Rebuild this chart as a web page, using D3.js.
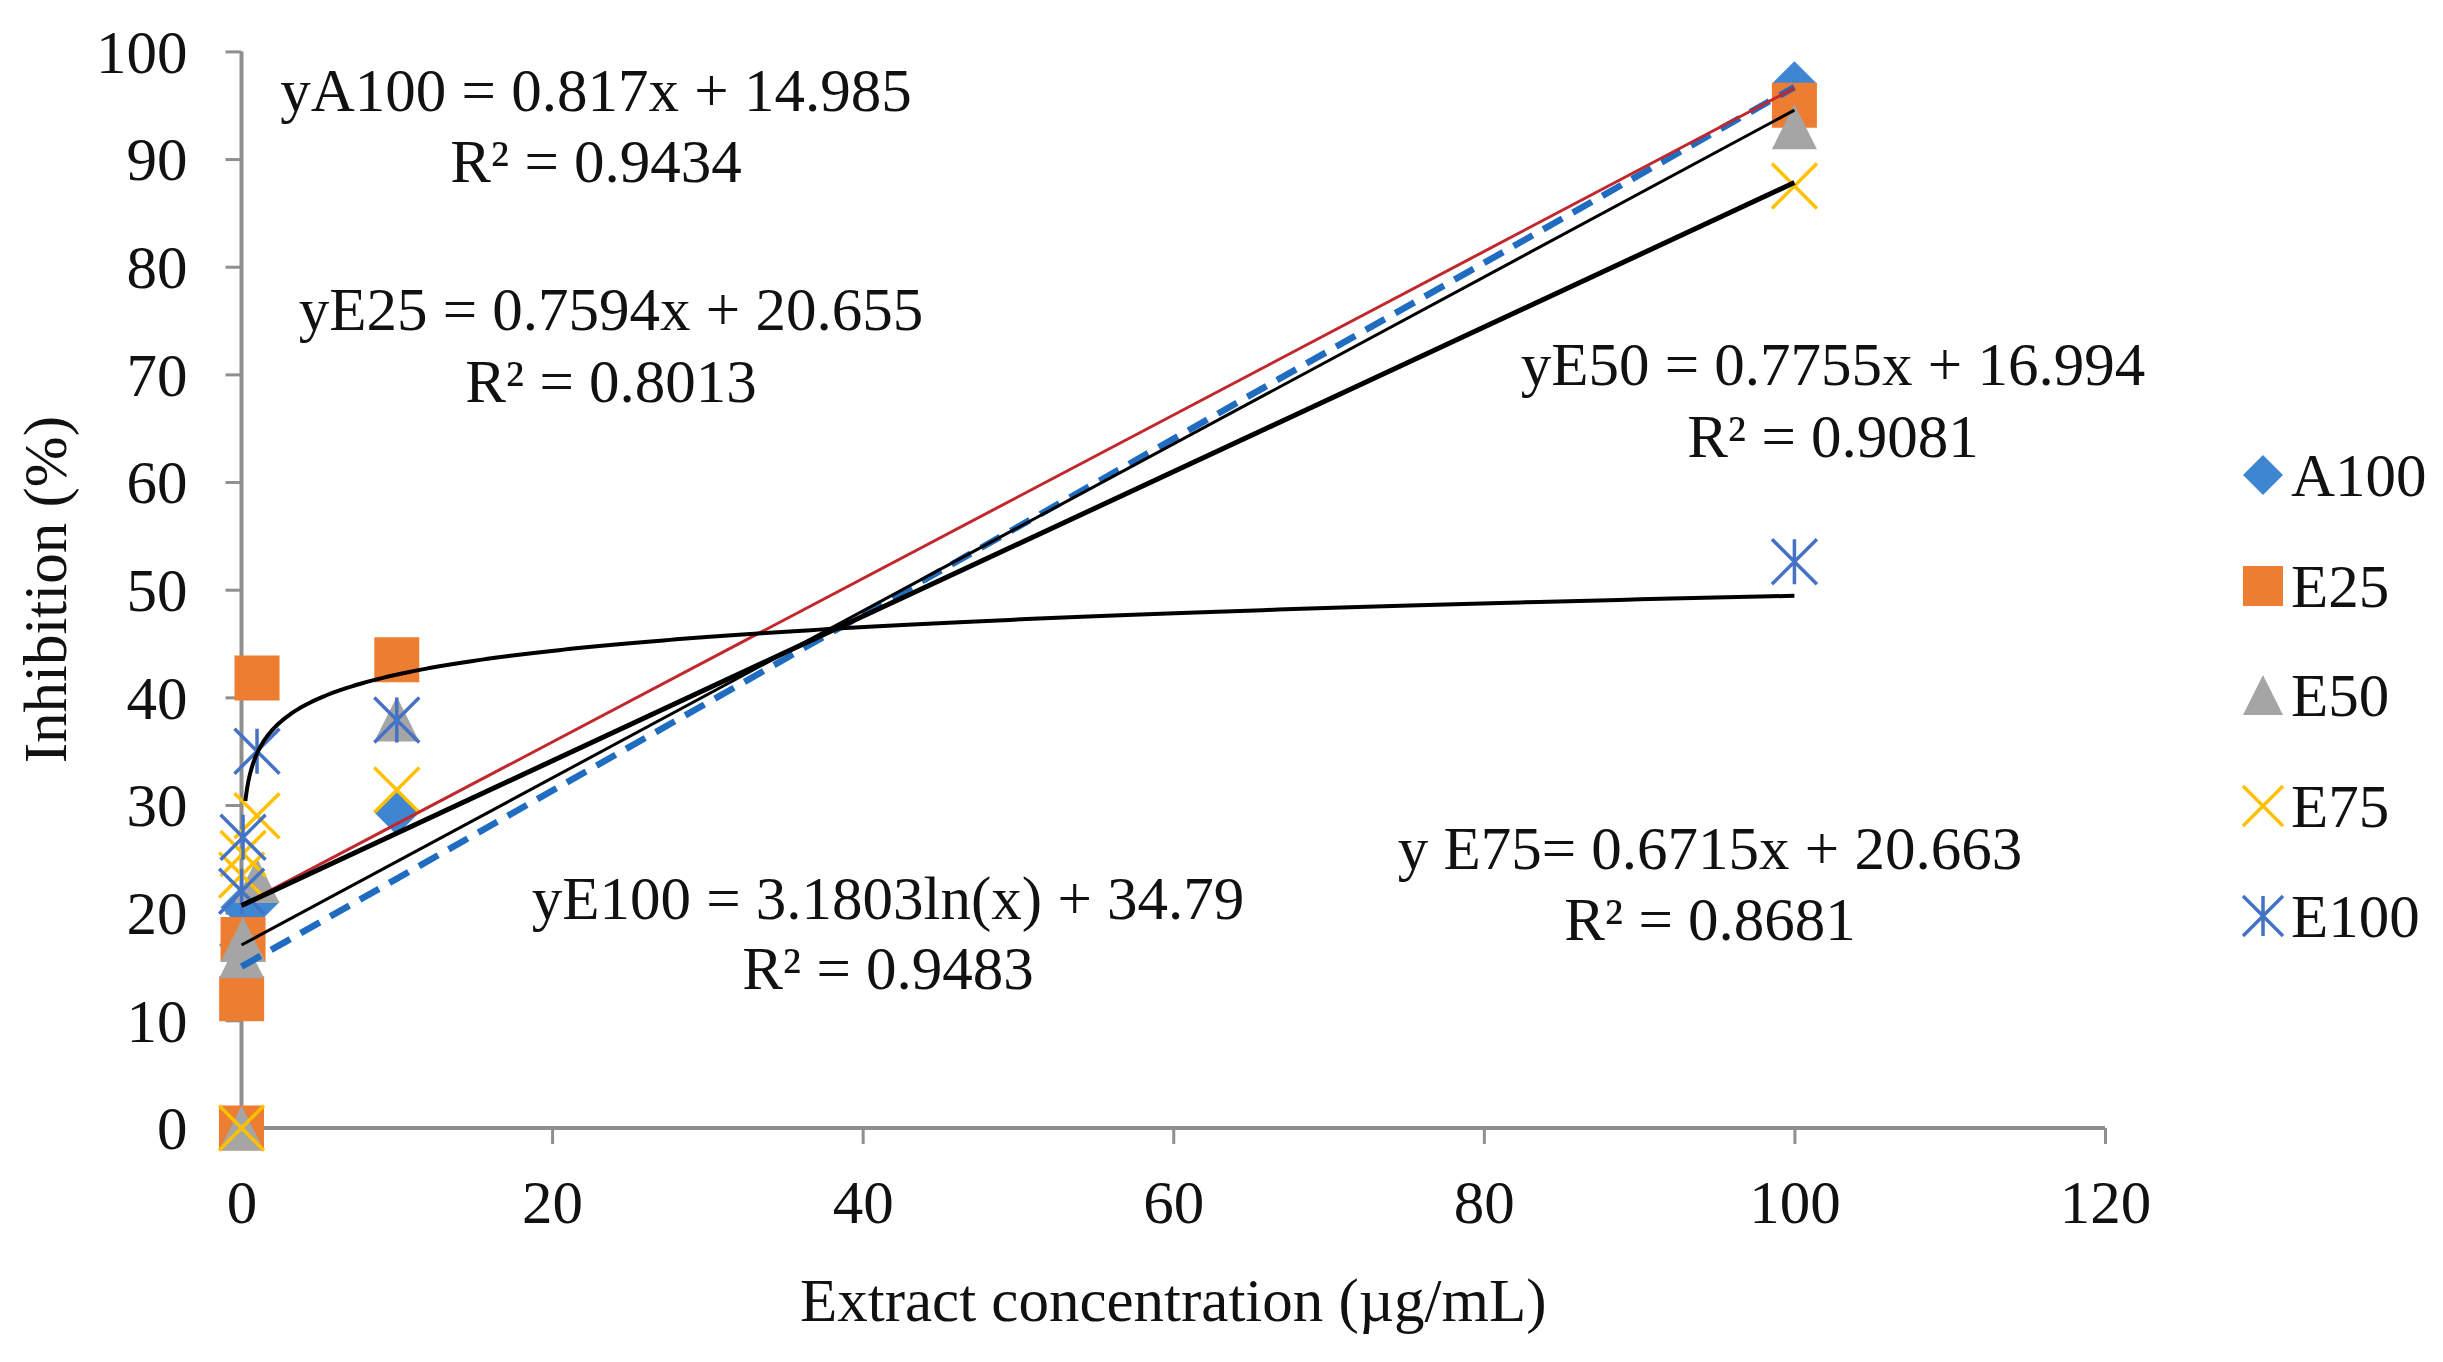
<!DOCTYPE html>
<html>
<head>
<meta charset="utf-8">
<script src="https://cdn.jsdelivr.net/npm/d3@7"></script>
<style>
  html, body { margin: 0; padding: 0; background: #ffffff; }
  svg { display: block; }
  text { font-family: "Liberation Serif", "Times New Roman", serif; fill: #111; }
</style>
</head>
<body>
<svg id="chart" width="2443" height="1362"></svg>
<script>
// ---------------- DATA ----------------
const seriesNames = ["A100", "E25", "E50", "E75", "E100"];

const xA100 = [0, 0.01, 0.1, 1, 10, 100];
const yA100 = [0, 17, 20.5, 21, 29.3, 97];

const xE25 = [0, 0.01, 0.1, 1, 10, 100];
const yE25 = [0, 12, 17.5, 41.8, 43.5, 95];

const xE50 = [0, 0.01, 0.1, 1, 10, 100];
const yE50 = [0, 16, 17.5, 23, 38, 93];

const xE75 = [0, 0.01, 0.1, 1, 10, 100];
const yE75 = [0, 23.5, 25.5, 29, 31.4, 87.5];

const xE100 = [0.01, 0.1, 1, 10, 100];
const yE100 = [22, 27, 35, 37.9, 52.6];

// trendlines (from the chart's equations)
const trendType = ["linear", "linear", "linear", "linear", "log"];
const trendSlope = [0.817, 0.7594, 0.7755, 0.6715, 3.1803];
const trendIntercept = [14.985, 20.655, 16.994, 20.663, 34.79];
const trendFrom = [0, 0, 0, 0, 0.25];
const trendTo = [100, 100, 100, 100, 100];

const eqText = [
  ["yA100 = 0.817x + 14.985", "R\u00B2 = 0.9434"],
  ["yE25 = 0.7594x + 20.655", "R\u00B2 = 0.8013"],
  ["yE50 = 0.7755x + 16.994", "R\u00B2 = 0.9081"],
  ["y E75= 0.6715x + 20.663", "R\u00B2 = 0.8681"],
  ["yE100 = 3.1803ln(x) + 34.79", "R\u00B2 = 0.9483"]
];

const xTicks = [0, 20, 40, 60, 80, 100, 120];
const yTicks = [0, 10, 20, 30, 40, 50, 60, 70, 80, 90, 100];
const xTitle = "Extract concentration (\u00B5g/mL)";
const yTitle = "Inhibition (%)";

// ---------------- LAYOUT / STYLE ----------------
const W = 2443, H = 1362;
const plot = { left: 241.5, right: 2105, top: 51.4, bottom: 1128 };
const fontSize = 61;
const axisColor = "#8f8f8f";

const markerColor = ["#3f86d2", "#ed7d31", "#a5a5a5", "#ffc000", "#4472c4"];
const markerShape = ["diamond", "square", "triangle", "x", "asterisk"];
const trendStyle = [
  { color: "#1f6cc0", width: 6.5, dash: "22,12" },
  { color: "#c0282d", width: 3, dash: null },
  { color: "#000000", width: 3, dash: null },
  { color: "#000000", width: 5, dash: null },
  { color: "#000000", width: 4, dash: null }
];
// label anchor: [center x, baseline of line 1, baseline of line 2] in px
const eqPos = [
  [596, 111, 182],
  [611, 330, 402],
  [1833, 385, 457],
  [1710, 869, 940],
  [888, 919, 989]
];

const xs = [xA100, xE25, xE50, xE75, xE100];
const ys = [yA100, yE25, yE50, yE75, yE100];

// ---------------- SCALES ----------------
const x = d3.scaleLinear().domain([0, 120]).range([plot.left, plot.right]);
const y = d3.scaleLinear().domain([0, 100]).range([plot.bottom, plot.top]);

const svg = d3.select("#chart");
svg.append("rect").attr("width", W).attr("height", H).attr("fill", "#fff");

// ---------------- AXES ----------------
const xAxis = d3.axisBottom(x).tickValues(xTicks).tickSize(16).tickPadding(36).tickFormat(d3.format("d"));
const yAxis = d3.axisLeft(y).tickValues(yTicks).tickSize(16).tickPadding(38).tickFormat(d3.format("d"));

const gx = svg.append("g").attr("transform", `translate(0,${plot.bottom})`).call(xAxis);
const gy = svg.append("g").attr("transform", `translate(${plot.left},0)`).call(yAxis);

[gx, gy].forEach(g => {
  g.select(".domain").remove();
  g.selectAll(".tick line").attr("stroke", axisColor).attr("stroke-width", 3);
  g.selectAll(".tick text")
    .style("font-family", '"Liberation Serif", "Times New Roman", serif')
    .attr("font-size", fontSize).attr("fill", "#111");
});
gx.selectAll(".tick text").attr("dy", "0.71em");
gy.selectAll(".tick text").attr("dy", "0.34em");

// axis lines
svg.append("line").attr("x1", x(0)).attr("x2", x(0)).attr("y1", y(100)).attr("y2", y(0))
  .attr("stroke", axisColor).attr("stroke-width", 4);
svg.append("line").attr("x1", x(0)).attr("x2", x(120)).attr("y1", y(0)).attr("y2", y(0))
  .attr("stroke", axisColor).attr("stroke-width", 4);

// axis titles
svg.append("text").attr("x", (plot.left + plot.right) / 2).attr("y", 1321)
  .attr("text-anchor", "middle").attr("font-size", fontSize).text(xTitle);
svg.append("text")
  .attr("transform", `translate(66,${(plot.top + plot.bottom) / 2}) rotate(-90)`)
  .attr("text-anchor", "middle").attr("font-size", fontSize).text(yTitle);

// ---------------- MARKERS ----------------
function markerPath(shape, s) {
  const h = s / 2;
  const p = d3.path();
  if (shape === "diamond") {
    p.moveTo(0, -h); p.lineTo(h, 0); p.lineTo(0, h); p.lineTo(-h, 0); p.closePath();
  } else if (shape === "square") {
    p.rect(-h, -h, s, s);
  } else if (shape === "triangle") {
    p.moveTo(0, -h); p.lineTo(h, h); p.lineTo(-h, h); p.closePath();
  } else if (shape === "x") {
    p.moveTo(-h, -h); p.lineTo(h, h); p.moveTo(h, -h); p.lineTo(-h, h);
  } else if (shape === "asterisk") {
    p.moveTo(-h, -h); p.lineTo(h, h); p.moveTo(h, -h); p.lineTo(-h, h);
    p.moveTo(0, -h); p.lineTo(0, h);
  }
  return p.toString();
}

function drawMarker(g, shape, color, s) {
  const filled = shape === "diamond" || shape === "square" || shape === "triangle";
  g.append("path").attr("d", markerPath(shape, s))
    .attr("fill", filled ? color : "none")
    .attr("stroke", filled ? "none" : color)
    .attr("stroke-width", filled ? 0 : 3.5);
}

const markerSize = 45;
const gMarkers = svg.append("g");
seriesNames.forEach((name, i) => {
  xs[i].forEach((xv, j) => {
    const g = gMarkers.append("g").attr("transform", `translate(${x(xv)},${y(ys[i][j])})`);
    drawMarker(g, markerShape[i], markerColor[i], markerSize);
  });
});

// ---------------- TRENDLINES ----------------
const line = d3.line().x(d => x(d[0])).y(d => y(d[1]));
seriesNames.forEach((name, i) => {
  let pts;
  if (trendType[i] === "linear") {
    pts = [trendFrom[i], trendTo[i]].map(v => [v, trendSlope[i] * v + trendIntercept[i]]);
  } else {
    const n = 400;
    pts = d3.range(n + 1).map(k => {
      const t = k / n;
      const v = Math.exp(Math.log(trendFrom[i]) + t * (Math.log(trendTo[i]) - Math.log(trendFrom[i])));
      return [v, trendSlope[i] * Math.log(v) + trendIntercept[i]];
    });
  }
  const st = trendStyle[i];
  svg.append("path").attr("d", line(pts)).attr("fill", "none")
    .attr("stroke", st.color).attr("stroke-width", st.width)
    .attr("stroke-dasharray", st.dash);
});

// ---------------- EQUATION LABELS ----------------
eqText.forEach((lines, i) => {
  const [cx, b1, b2] = eqPos[i];
  svg.append("text").attr("x", cx).attr("y", b1).attr("text-anchor", "middle")
    .attr("font-size", fontSize).text(lines[0]);
  svg.append("text").attr("x", cx).attr("y", b2).attr("text-anchor", "middle")
    .attr("font-size", fontSize).text(lines[1]);
});

// ---------------- LEGEND ----------------
const legendX = 2263, legendTextX = 2291;
const legendY = [475, 586, 695, 806, 916];
seriesNames.forEach((name, i) => {
  const g = svg.append("g").attr("transform", `translate(${legendX},${legendY[i]})`);
  drawMarker(g, markerShape[i], markerColor[i], 40);
  svg.append("text").attr("x", legendTextX).attr("y", legendY[i]).attr("dy", "0.35em")
    .attr("font-size", fontSize).text(name);
});
</script>
</body>
</html>
